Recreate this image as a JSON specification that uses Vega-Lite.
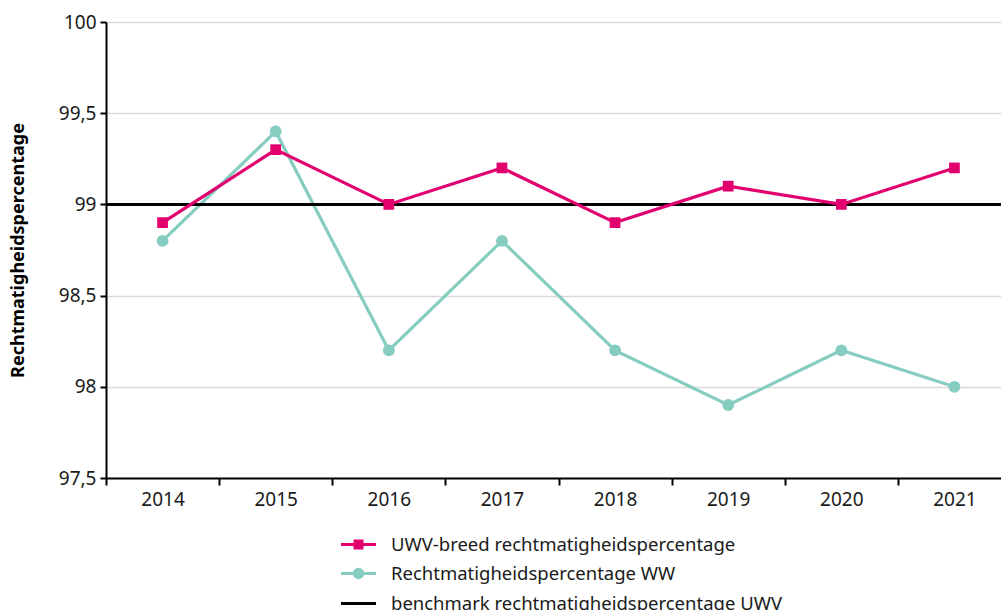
{
  "$schema": "https://vega.github.io/schema/vega-lite/v6.json",
  "width": 905,
  "height": 456,
  "autosize": {"type": "none"},
  "padding": {"left": 106, "top": 22, "right": 0, "bottom": 132},
  "background": "white",
  "config": {
    "font": "Noto Sans",
    "view": {"stroke": null},
    "axis": {"labelFont": "Noto Sans", "titleFont": "Noto Sans"}
  },
  "data": {
    "values": [
      {"year": "2014", "series": "UWV-breed rechtmatigheidspercentage", "value": 98.9},
      {"year": "2015", "series": "UWV-breed rechtmatigheidspercentage", "value": 99.3},
      {"year": "2016", "series": "UWV-breed rechtmatigheidspercentage", "value": 99.0},
      {"year": "2017", "series": "UWV-breed rechtmatigheidspercentage", "value": 99.2},
      {"year": "2018", "series": "UWV-breed rechtmatigheidspercentage", "value": 98.9},
      {"year": "2019", "series": "UWV-breed rechtmatigheidspercentage", "value": 99.1},
      {"year": "2020", "series": "UWV-breed rechtmatigheidspercentage", "value": 99.0},
      {"year": "2021", "series": "UWV-breed rechtmatigheidspercentage", "value": 99.2},
      {"year": "2014", "series": "Rechtmatigheidspercentage WW", "value": 98.8},
      {"year": "2015", "series": "Rechtmatigheidspercentage WW", "value": 99.4},
      {"year": "2016", "series": "Rechtmatigheidspercentage WW", "value": 98.2},
      {"year": "2017", "series": "Rechtmatigheidspercentage WW", "value": 98.8},
      {"year": "2018", "series": "Rechtmatigheidspercentage WW", "value": 98.2},
      {"year": "2019", "series": "Rechtmatigheidspercentage WW", "value": 97.9},
      {"year": "2020", "series": "Rechtmatigheidspercentage WW", "value": 98.2},
      {"year": "2021", "series": "Rechtmatigheidspercentage WW", "value": 98.0},
      {"year": null, "series": "benchmark rechtmatigheidspercentage UWV", "value": 99.0}
    ]
  },
  "encoding": {
    "y": {
      "field": "value",
      "type": "quantitative",
      "scale": {"domain": [97.5, 100], "nice": false, "zero": false},
      "axis": {
        "values": [97.5, 98, 98.5, 99, 99.5, 100],
        "labelExpr": "replace(toString(datum.value), '.', ',')",
        "title": "Rechtmatigheidspercentage",
        "titleFontSize": 18,
        "titleFontWeight": "bold",
        "titleColor": "#000000",
        "titlePadding": 31,
        "labelFontSize": 19,
        "labelColor": "#1a1a1a",
        "labelPadding": 4,
        "domainColor": "#000000",
        "domainWidth": 2,
        "tickColor": "#000000",
        "tickWidth": 2,
        "tickSize": 6,
        "gridColor": "#d9d9d9",
        "gridWidth": 1.5
      }
    }
  },
  "layer": [
    {
      "transform": [{"filter": "datum.series == 'Rechtmatigheidspercentage WW'"}],
      "mark": {"type": "line", "strokeWidth": 3.2, "point": {"filled": true, "shape": "circle", "size": 140}},
      "encoding": {
        "x": {
          "field": "year",
          "type": "ordinal",
          "scale": {"paddingInner": 0, "paddingOuter": 0},
          "axis": {
            "title": null,
            "labelAngle": 0,
            "labelFontSize": 19,
            "labelColor": "#1a1a1a",
            "labelPadding": 5,
            "tickBand": "extent",
            "domainColor": "#000000",
            "domainWidth": 2,
            "tickColor": "#000000",
            "tickWidth": 2,
            "tickSize": 7,
            "grid": false
          }
        },
        "color": {"field": "series", "type": "nominal"}
      }
    },
    {
      "transform": [{"filter": "datum.series == 'benchmark rechtmatigheidspercentage UWV'"}],
      "mark": {"type": "rule", "strokeWidth": 3},
      "encoding": {
        "color": {"field": "series", "type": "nominal"}
      }
    },
    {
      "transform": [{"filter": "datum.series == 'UWV-breed rechtmatigheidspercentage'"}],
      "mark": {"type": "line", "strokeWidth": 3.2, "point": {"filled": true, "shape": "square", "size": 115}},
      "encoding": {
        "x": {"field": "year", "type": "ordinal"},
        "color": {
          "field": "series",
          "type": "nominal",
          "scale": {
            "domain": ["UWV-breed rechtmatigheidspercentage", "Rechtmatigheidspercentage WW", "benchmark rechtmatigheidspercentage UWV"],
            "range": ["#E2006F", "#86CCC0", "#000000"]
          },
          "legend": {
            "title": null,
            "orient": "none",
            "legendX": 241,
            "legendY": 511,
            "direction": "vertical",
            "symbolSize": 400,
            "labelFontSize": 18.5,
            "labelColor": "#1a1a1a",
            "labelOffset": 21,
            "rowPadding": 8,
            "padding": 0,
            "labelLimit": 700,
            "encode": {
              "symbols": {
                "update": {
                  "shape": {"signal": "datum.value == 'UWV-breed rechtmatigheidspercentage' ? 'M-1.75,0H1.75M-0.35,-0.35H0.35V0.35H-0.35Z' : datum.value == 'Rechtmatigheidspercentage WW' ? 'M-1.75,0H1.75M0.42,0A0.42,0.42 0 1,1 -0.42,0A0.42,0.42 0 1,1 0.42,0Z' : 'M-1.75,0H1.75'"},
                  "fill": {"signal": "scale('color', datum.value)"},
                  "stroke": {"signal": "scale('color', datum.value)"},
                  "strokeWidth": {"value": 3},
                  "opacity": {"value": 1}
                }
              }
            }
          }
        }
      }
    }
  ]
}
